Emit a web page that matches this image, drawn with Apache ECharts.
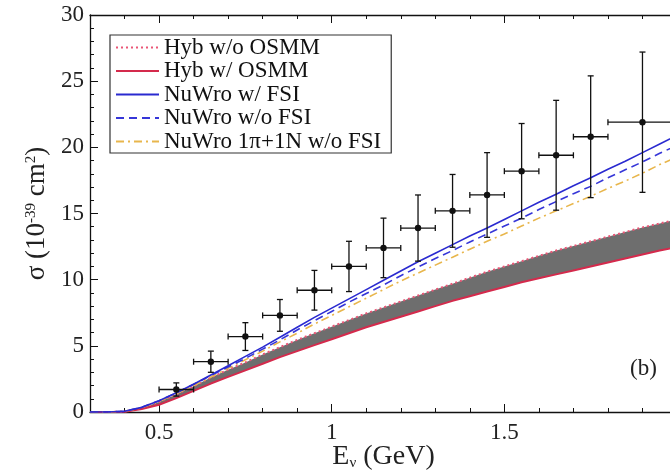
<!DOCTYPE html>
<html>
<head>
<meta charset="utf-8">
<script src="https://cdn.jsdelivr.net/npm/echarts@6/dist/echarts.min.js"></script>
<style>html,body{margin:0;padding:0;background:#fff;}#c{width:670px;height:474px;}</style>
</head>
<body>
<div id="c"></div>
<script>
// ---- data ----
const energies = [0.30,0.35,0.40,0.45,0.50,0.55,0.60,0.65,0.70,0.75,0.80,0.85,0.90,0.95,1.00,1.05,1.10,1.15,1.20,1.25,1.30,1.35,1.40,1.45,1.50,1.55,1.60,1.65,1.70,1.75,1.80,1.85,1.90,1.95,2.00];
const nuwroFSI   = [0,0,0.05,0.35,0.85,1.45,2.1,2.8,3.5,4.2,4.9,5.65,6.4,7.15,7.85,8.55,9.25,9.95,10.65,11.35,12.0,12.65,13.3,13.9,14.55,15.2,15.85,16.45,17.1,17.7,18.35,18.95,19.6,20.25,20.9];
const nuwroNoFSI = [0,0,0.05,0.35,0.85,1.45,2.1,2.75,3.4,4.05,4.75,5.45,6.2,6.9,7.6,8.3,8.95,9.6,10.3,10.95,11.6,12.2,12.85,13.45,14.05,14.65,15.3,15.9,16.5,17.05,17.7,18.3,18.9,19.55,20.15];
const nuwro1pi1N = [0,0,0.05,0.33,0.8,1.38,2.0,2.65,3.3,3.95,4.6,5.3,5.95,6.65,7.3,7.95,8.6,9.25,9.9,10.5,11.1,11.7,12.3,12.9,13.45,14.05,14.65,15.2,15.75,16.3,16.9,17.45,18.05,18.7,19.25];
const hybNoOSMM  = [0,0,0.03,0.3,0.75,1.35,1.95,2.6,3.2,3.75,4.35,4.9,5.45,5.95,6.45,6.95,7.45,7.9,8.35,8.8,9.25,9.7,10.15,10.6,11.0,11.4,11.8,12.2,12.55,12.9,13.25,13.6,13.95,14.25,14.55];
const hybOSMM    = [0,0,0.02,0.22,0.55,1.05,1.6,2.15,2.65,3.15,3.65,4.15,4.6,5.05,5.5,5.95,6.4,6.8,7.2,7.6,8.0,8.4,8.75,9.1,9.45,9.8,10.1,10.4,10.7,11.0,11.3,11.6,11.9,12.2,12.45];

const dataE     = [0.55,0.65,0.75,0.85,0.95,1.05,1.15,1.25,1.35,1.45,1.55,1.65,1.75,1.90];
const dataSigma = [1.7,3.8,5.7,7.3,9.2,11.0,12.4,13.9,15.2,16.4,18.2,19.4,20.8,21.9];
const dataErrY  = [0.5,0.8,1.05,1.2,1.5,1.9,2.25,2.5,2.75,3.2,3.6,4.15,4.6,5.3];
const dataErrX  = [0.05,0.05,0.05,0.05,0.05,0.05,0.05,0.05,0.05,0.05,0.05,0.05,0.05,0.10];

const xTickValues = [0.5,1,1.5,2];
const xTickLabels = [0.5,1,1.5];
const xMinorTicks = [0.4,0.6,0.7,0.8,0.9,1.1,1.2,1.3,1.4,1.6,1.7,1.8,1.9];

const names = ['Hyb w/o OSMM','Hyb w/ OSMM','NuWro w/ FSI','NuWro w/o FSI','NuWro 1\u03c0+1N w/o FSI'];

// ---- chart ----
const FONT = 'Liberation Serif';
const chart = echarts.init(document.getElementById('c'), null, {renderer:'canvas'});
const pair = arr => energies.map((e,i)=>[e, arr[i]]);

function xAx(opts){
  return Object.assign({
    type:'value', min:0.3, max:2.0, gridIndex:0,
    splitLine:{show:false},
    axisLine:{show:true, onZero:false, lineStyle:{color:'#111', width:1.3}},
    axisLabel:{show:false},
  }, opts);
}

const option = {
  animation:false,
  backgroundColor:'#fff',
  grid:{left:90, top:15, width:587, bottom:62, containLabel:false, outerBoundsMode:'none'},
  legend:{
    data:names, orient:'vertical', left:110, top:35,
    itemWidth:43, itemHeight:14, itemGap:0.5,
    padding:[1,10,0,5], borderColor:'#333', borderWidth:1.2, backgroundColor:'#fff',
    selectedMode:false,
    itemStyle:{color:'rgba(0,0,0,0)', borderWidth:0, opacity:0},
    textStyle:{fontFamily:FONT, fontSize:23, lineHeight:20, color:'#111'}
  },
  xAxis:[
    xAx({position:'bottom',
      axisTick:{show:true, inside:true, length:8, customValues:xTickValues, lineStyle:{color:'#111'}},
      axisLabel:{show:true, customValues:xTickLabels, fontFamily:FONT, fontSize:23, color:'#222', margin:9,
        formatter:v=>String(v)},
      name:'E{sub|\u03bd} (GeV)', nameLocation:'middle', nameGap:30, nameMoveOverlap:false,
      nameTextStyle:{fontFamily:FONT, fontSize:28, color:'#222',
        rich:{sub:{fontFamily:FONT, fontSize:15, verticalAlign:'bottom', padding:[14,0,0,0]}}}
    }),
    xAx({position:'bottom', axisLine:{show:false},
      axisTick:{show:true, inside:true, length:4, customValues:xMinorTicks, lineStyle:{color:'#111'}}}),
    xAx({position:'top',
      axisTick:{show:true, inside:true, length:8, customValues:xTickValues, lineStyle:{color:'#111'}}}),
    xAx({position:'top', axisLine:{show:false},
      axisTick:{show:true, inside:true, length:4, customValues:xMinorTicks, lineStyle:{color:'#111'}}})
  ],
  yAxis:[{
    type:'value', min:0, max:30, interval:5,
    splitLine:{show:false},
    axisLine:{show:true, lineStyle:{color:'#111', width:1.3}},
    axisTick:{show:true, inside:true, length:8, lineStyle:{color:'#111'}},
    minorTick:{show:true, splitNumber:5, length:4, lineStyle:{color:'#111'}},
    axisLabel:{fontFamily:FONT, fontSize:23, color:'#222', margin:6},
    name:'\u03c3 (10{sup|-39} cm{sup|2})', nameLocation:'middle', nameGap:38, nameRotate:90,
    nameTextStyle:{fontFamily:FONT, fontSize:27, color:'#222',
      rich:{sup:{fontFamily:FONT, fontSize:15, verticalAlign:'top', padding:[0,0,12,0]}}}
  }],
  series:[
    {type:'custom', name:'band', z:1, silent:true,
     data:energies.map((e,i)=>[e, hybOSMM[i], hybNoOSMM[i]]),
     renderItem:function(params, api){
       if (params.dataIndex !== 0) return null;
       const pts = [];
       for (let i=0;i<energies.length;i++) pts.push(api.coord([energies[i], hybNoOSMM[i]]));
       for (let i=energies.length-1;i>=0;i--) pts.push(api.coord([energies[i], hybOSMM[i]]));
       return {type:'polygon', shape:{points:pts}, style:{fill:'#6e6e6e', stroke:null}};
     }},
    {type:'line', name:names[0], data:pair(hybNoOSMM), symbol:'none', z:3,
     lineStyle:{color:'#ea5676', width:2, type:[2,3]}, itemStyle:{color:'#ea5676'}},
    {type:'line', name:names[1], data:pair(hybOSMM), symbol:'none', z:3,
     lineStyle:{color:'#d42a4c', width:2}, itemStyle:{color:'#d42a4c'}},
    {type:'line', name:names[4], data:pair(nuwro1pi1N), symbol:'none', z:4,
     lineStyle:{color:'#e8b64c', width:1.6, type:[8,4,2,4]}, itemStyle:{color:'#e8b64c'}},
    {type:'line', name:names[3], data:pair(nuwroNoFSI), symbol:'none', z:4,
     lineStyle:{color:'#3636d8', width:1.6, type:[8,5]}, itemStyle:{color:'#3636d8'}},
    {type:'line', name:names[2], data:pair(nuwroFSI), symbol:'none', z:4,
     lineStyle:{color:'#2a2ad0', width:1.6}, itemStyle:{color:'#2a2ad0'}},
    {type:'custom', name:'data', z:6,
     data:dataE.map((e,i)=>[e, dataSigma[i], dataErrY[i], dataErrX[i]]),
     renderItem:function(params, api){
       const x=api.value(0), y=api.value(1), ey=api.value(2), ex=api.value(3);
       const c=api.coord([x,y]), t=api.coord([x,y+ey]), b=api.coord([x,y-ey]);
       const l=api.coord([x-ex,y]), r=api.coord([x+ex,y]);
       const st={stroke:'#111', lineWidth:1.3};
       const cap=3;
       return {type:'group', children:[
         {type:'line', shape:{x1:t[0],y1:t[1],x2:b[0],y2:b[1]}, style:st},
         {type:'line', shape:{x1:t[0]-cap,y1:t[1],x2:t[0]+cap,y2:t[1]}, style:st},
         {type:'line', shape:{x1:b[0]-cap,y1:b[1],x2:b[0]+cap,y2:b[1]}, style:st},
         {type:'line', shape:{x1:l[0],y1:l[1],x2:r[0],y2:r[1]}, style:st},
         {type:'line', shape:{x1:l[0],y1:l[1]-cap,x2:l[0],y2:l[1]+cap}, style:st},
         {type:'line', shape:{x1:r[0],y1:r[1]-cap,x2:r[0],y2:r[1]+cap}, style:st},
         {type:'circle', shape:{cx:c[0],cy:c[1],r:3.2}, style:{fill:'#111'}}
       ]};
     }}
  ],
  graphic:[
    {type:'text', left:630, top:357, style:{text:'(b)', fontFamily:FONT, fontSize:23, fill:'#222'}}
  ]
};
chart.setOption(option);
</script>
</body>
</html>
